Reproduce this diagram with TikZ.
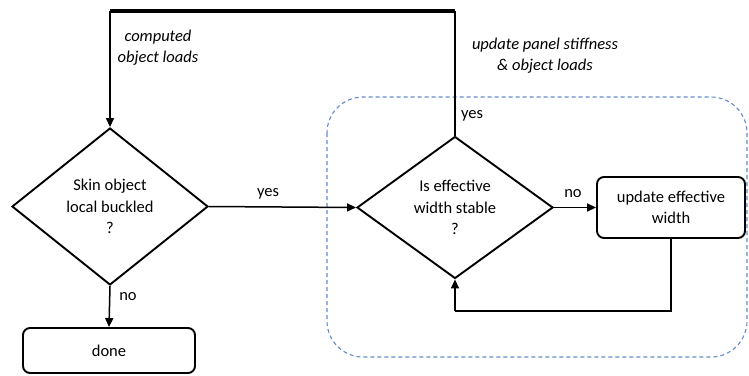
\documentclass[tikz,border=0pt]{standalone}
\usepackage{fontspec}
\setmainfont{Carlito}
\usetikzlibrary{shapes.geometric,arrows.meta}
\definecolor{dashblue}{RGB}{100,140,205}
\tikzset{
  dec/.style={draw,diamond,line width=1.9pt,minimum width=196pt,inner sep=0pt,aspect=1.3,align=center,font=\fontsize{16.5pt}{21.5pt}\selectfont},
  procbox/.style={draw,rounded corners=7pt,line width=1.9pt,align=center,font=\fontsize{16.5pt}{21.5pt}\selectfont},
  conn/.style={line width=1.5pt,-{Triangle[length=9pt,width=8pt]}},
  plain/.style={line width=1.5pt},
  lbl/.style={font=\fontsize{16.5pt}{18pt}\selectfont,inner sep=0pt},
  note/.style={font=\fontsize{16.5pt}{21pt}\selectfont\itshape,align=center,inner sep=0pt},
}
\begin{document}
\begin{tikzpicture}[x=1pt,y=-1pt]
\useasboundingbox (0,0) rectangle (749,375);
% dashed region
\draw[dashblue,line width=1.1pt,dash pattern=on 4pt off 3pt,rounded corners=36pt] (327,97) rectangle (747,357);
% nodes
\node[dec,minimum height=157pt] (d1) at (110,206.5) {Skin object\\local buckled\\?};
\node[dec,minimum height=142pt] (d2) at (455,207.5) {Is effective\\width stable\\?};
\node[procbox,minimum width=148pt,minimum height=61pt] (upd) at (671,207.5) {update effective\\width};
\node[procbox,minimum width=172pt,minimum height=45pt] (done) at (109,350.5) {done};
\coordinate (tl) at (110,11);
\coordinate (tr) at (455,11);
\coordinate (lb) at (671,311);
\coordinate (lc) at (455,311);
% connectors
\draw[line width=3.5pt] (tl) -- (tr);
\draw[conn] (tl) -- (d1.north);
\draw[plain] (d2.north) -- (tr);
\draw[conn] (d1.east) -- (d2.west);
\draw[conn] (d1.south) -- (done.north);
\draw[conn] (d2.east) -- (upd.west);
\draw[plain] (upd.south) -- (lb) -- (lc);
\draw[conn] (lc) -- (d2.south);
% labels
\node[lbl] (y1) at (268,194) {yes};
\node[lbl] (n1) at (573,194) {no};
\node[lbl] (n2) at (128,297) {no};
\node[lbl] (y2) at (472,116) {yes};
\node[note] (cl) at (158,48) {computed\\object loads};
\node[note] (up) at (545,56) {update panel stiffness\\\& object loads};
\end{tikzpicture}
\end{document}
